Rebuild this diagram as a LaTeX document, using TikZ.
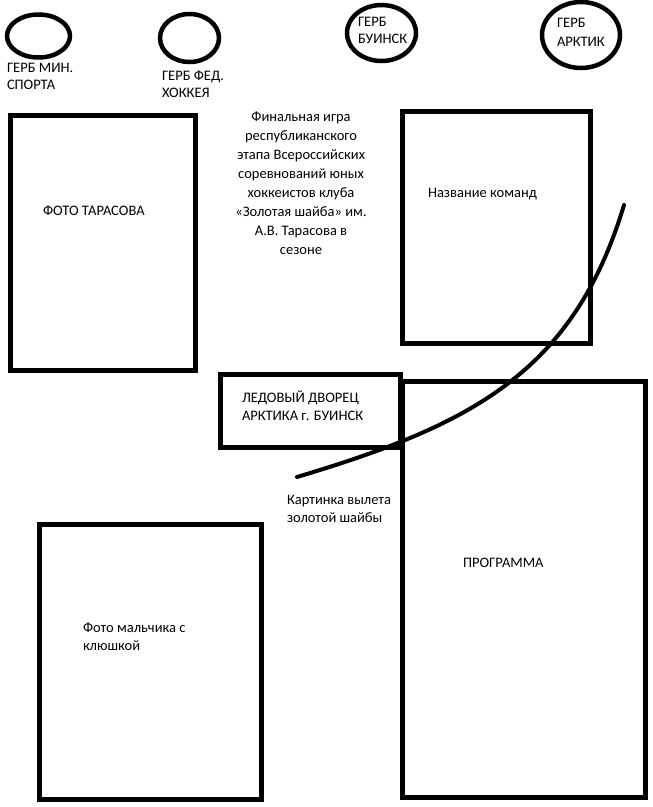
\documentclass[tikz,border=0pt]{standalone}
\usepackage{fontspec}
\setmainfont{Carlito}
\usetikzlibrary{shapes.geometric}
\tikzset{
  frame/.style={draw=black, line width=5pt, rectangle, inner sep=0pt, outer sep=0pt},
  gerb/.style={draw=black, line width=4.5pt, ellipse, inner sep=0pt, outer sep=0pt},
  lbl/.style={inner sep=0pt, outer sep=0pt, align=left, anchor=north west, text=black},
  clbl/.style={inner sep=0pt, outer sep=0pt, align=center, anchor=north, text=black},
  fs/.style={font=\fontsize{14.5}{#1}\selectfont},
}
\newcommand{\fl}{\rule{0pt}{13pt}}
\begin{document}
\begin{tikzpicture}[x=1pt,y=-1pt]
\useasboundingbox[fill=white] (0,0) rectangle (653,807);
% coats of arms
\node[gerb, minimum width=63pt, minimum height=43pt] (c1) at (38.5,36) {};
\node[gerb, minimum width=59pt, minimum height=48pt] (c2) at (189.5,38) {};
\node[gerb, minimum width=69pt, minimum height=56pt] (c3) at (381.5,33) {};
\node[gerb, minimum width=78pt, minimum height=66pt] (c4) at (581,35) {};
\node[lbl, fs=17] (t1) at (7,59.5) {\fl ГЕРБ МИН.\\СПОРТА};
\node[lbl, fs=17] (t2) at (162,67.5) {\fl ГЕРБ ФЕД.\\ХОККЕЯ};
\node[lbl, fs=17] (t3) at (358,13.5) {\fl ГЕРБ\\БУИНСК};
\node[lbl, fs=19] (t4) at (557,14) {\fl ГЕРБ\\АРКТИК};
% frames
\node[frame, minimum width=185pt, minimum height=255pt] (r1) at (103,243) {};
\node[frame, minimum width=188pt, minimum height=232pt] (r2) at (496.5,227.5) {};
\node[frame, minimum width=180pt, minimum height=73pt] (r3) at (310.5,411) {};
\node[frame, minimum width=243pt, minimum height=416pt] (r4) at (524,589.5) {};
\node[frame, minimum width=222pt, minimum height=275pt] (r5) at (150.5,662) {};
% texts
\node[lbl, fs=18] (tr1) at (43,202.5) {\fl ФОТО ТАРАСОВА};
\node[clbl, fs=19] (tc) at (301,108.5) {\fl Финальная игра\\республиканского\\этапа Всероссийских\\соревнований юных\\хоккеистов клуба\\«Золотая шайба» им.\\А.В. Тарасова в\\сезоне};
\node[lbl, fs=18] (tr2) at (428,184.5) {\fl Название команд};
\node[lbl, fs=18] (tr3) at (242,389.5) {\fl ЛЕДОВЫЙ ДВОРЕЦ\\АРКТИКА г. БУИНСК};
\node[lbl, fs=18.5] (tk) at (287,491) {\fl Картинка вылета\\золотой шайбы};
\node[lbl, fs=18] (tr4) at (463,554.5) {\fl ПРОГРАММА};
\node[lbl, fs=18] (tr5) at (83,619.5) {\fl Фото мальчика с\\клюшкой};
% puck flight curve
\coordinate (p0) at (297,477);
\coordinate (p3) at (624,205);
\draw[line width=4pt, line cap=round] (p0) .. controls (467,426) and (573,375) .. (p3);
\end{tikzpicture}
\end{document}
